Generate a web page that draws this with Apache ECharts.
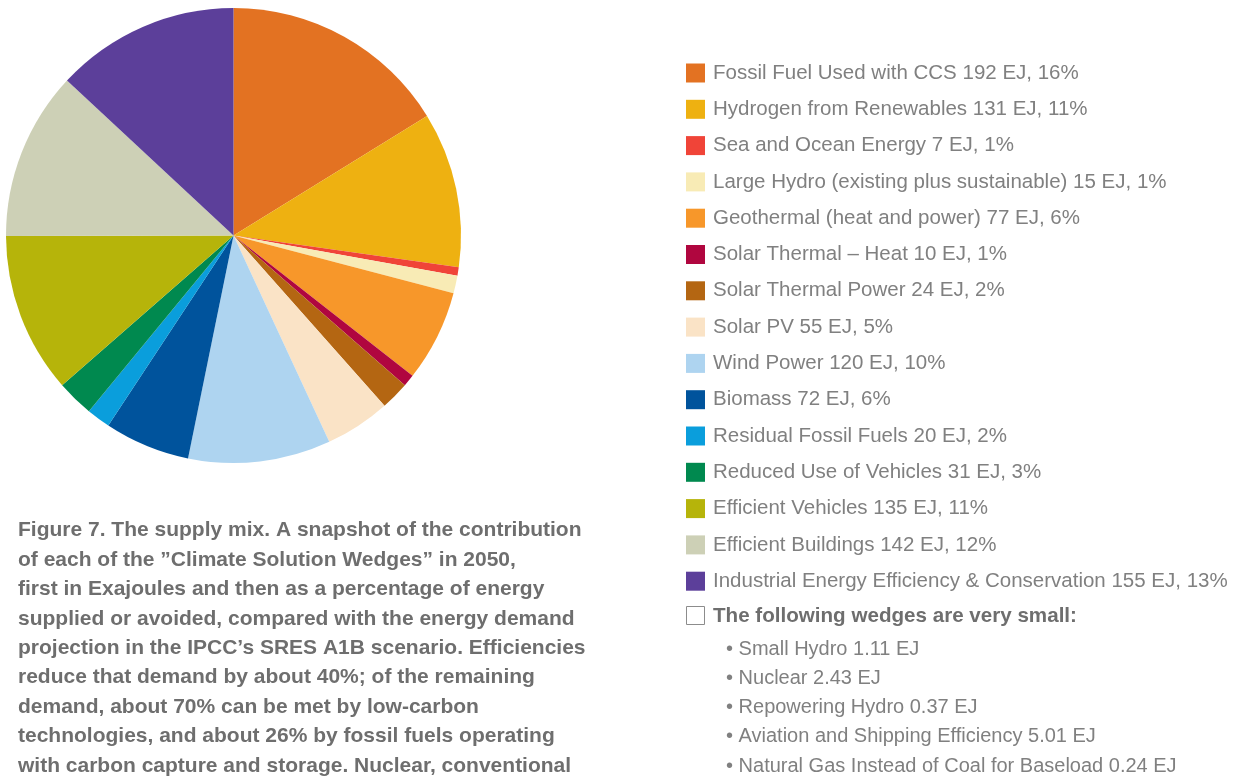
<!DOCTYPE html>
<html>
<head>
<meta charset="utf-8">
<script src="https://cdn.jsdelivr.net/npm/echarts@6/dist/echarts.min.js"></script>
<style>
 html, body { margin: 0; padding: 0; background: #fff; }
 #chart { width: 1234px; height: 780px; }
</style>
</head>
<body>
<div id="chart"></div>
<script>
// wedges, clockwise from 12 o'clock
const names = ['Fossil Fuel Used with CCS', 'Hydrogen from Renewables', 'Sea and Ocean Energy',
 'Large Hydro (existing plus sustainable)', 'Geothermal (heat and power)', 'Solar Thermal – Heat',
 'Solar Thermal Power', 'Solar PV', 'Wind Power', 'Biomass', 'Residual Fossil Fuels',
 'Reduced Use of Vehicles', 'Efficient Vehicles', 'Efficient Buildings',
 'Industrial Energy Efficiency & Conservation'];
const ej = [192, 131, 7, 15, 77, 10, 24, 55, 120, 72, 20, 31, 135, 142, 155];
const pct = [16, 11, 1, 1, 6, 1, 2, 5, 10, 6, 2, 3, 11, 12, 13];
const colors = ['#E37222', '#EEB111', '#F04438', '#F8EBB5', '#F7972A', '#B0063F', '#B46612',
 '#FAE3C6', '#AED4F0', '#00539C', '#0A9EDC', '#00894F', '#B6B40A', '#CDD0B6', '#5C3F9A'];

const smallWedges = ['Small Hydro 1.11 EJ', 'Nuclear 2.43 EJ', 'Repowering Hydro 0.37 EJ',
 'Aviation and Shipping Efficiency 5.01 EJ', 'Natural Gas Instead of Coal for Baseload 0.24 EJ'];

const caption = ['Figure 7. The supply mix. A snapshot of the contribution',
 'of each of the ”Climate Solution Wedges” in 2050,',
 'first in Exajoules and then as a percentage of energy',
 'supplied or avoided, compared with the energy demand',
 'projection in the IPCC’s SRES A1B scenario. Efficiencies',
 'reduce that demand by about 40%; of the remaining',
 'demand, about 70% can be met by low-carbon',
 'technologies, and about 26% by fossil fuels operating',
 'with carbon capture and storage. Nuclear, conventional'];

const txtGray = '#808080';
const font = '"Liberation Sans", Arial, sans-serif';

const chart = echarts.init(document.getElementById('chart'));

let pieData = names.map((n, i) => ({ name: n, value: ej[i], itemStyle: { color: colors[i] } }));

let graphics = [];
// caption bottom left
graphics.push({
 type: 'text', left: 18, top: 516,
 style: { text: caption.join('\n'), font: 'bold 21px ' + font, fill: '#6e6e6e', lineHeight: 29.4 }
});
// empty box + heading
graphics.push({
 type: 'rect', shape: { x: 686.5, y: 606.5, width: 18, height: 18 },
 style: { fill: '#fff', stroke: '#8c8c8c', lineWidth: 1 }
});
graphics.push({
 type: 'text', left: 713, top: 606,
 style: { text: 'The following wedges are very small:', font: 'bold 20.6px ' + font, fill: '#6e6e6e' }
});
smallWedges.forEach((s, i) => {
 graphics.push({
 type: 'text', left: 726, top: 639 + i * 29.3,
 style: { text: '• ' + s, font: '20px ' + font, fill: txtGray }
 });
});

chart.setOption({
 animation: false,
 legend: {
 orient: 'vertical',
 left: 686, top: 62.5,
 padding: 0,
 icon: 'rect',
 itemWidth: 19, itemHeight: 19, itemGap: 15.3,
 selectedMode: false,
 textStyle: { fontFamily: font, fontSize: 20.5, color: txtGray, padding: [0, 0, 0, 3] },
 formatter: function (name) {
 const i = names.indexOf(name);
 return name + ' ' + ej[i] + ' EJ, ' + pct[i] + '%';
 },
 data: names
 },
 series: [{
 type: 'pie',
 center: [233.5, 235.5],
 radius: 227.5,
 startAngle: 90,
 clockwise: true,
 label: { show: false },
 labelLine: { show: false },
 emphasis: { disabled: true },
 data: pieData
 }],
 graphic: graphics
});
</script>
</body>
</html>
